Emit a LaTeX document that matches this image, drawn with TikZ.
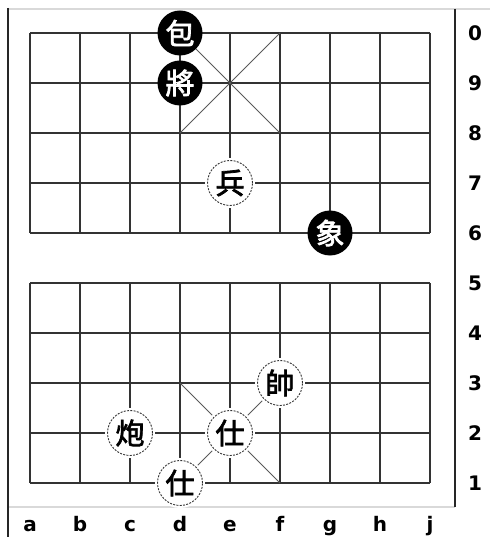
\documentclass[tikz,border=0pt]{standalone}
\usepackage{fontspec}
\newfontfamily\cjk[AutoFakeBold=2.5]{Noto Sans CJK SC}
\newfontfamily\lab{DejaVu Sans}
\begin{document}
\begin{tikzpicture}[x=1pt,y=-1pt,
  gridline/.style={draw=black!80,line width=1.2pt},
  palace/.style={draw=black!65,line width=0.8pt},
  frameline/.style={draw=black!85,line width=1.6pt},
  lightline/.style={draw=black!15,line width=1.2pt},
  blackpc/.style={circle,fill=black,text=white,minimum size=45pt,inner sep=0pt,
    font=\cjk\bfseries\fontsize{29}{29}\selectfont},
  redpc/.style={circle,fill=white,draw=black!80,line width=0.9pt,
    dash pattern=on 2pt off 1.3pt,minimum size=45pt,inner sep=0pt,
    preaction={draw=white,solid,line width=5pt},
    font=\cjk\bfseries\fontsize{29}{29}\selectfont},
  ranklabel/.style={font=\lab\bfseries\fontsize{20}{20}\selectfont,inner sep=0pt},
  filelabel/.style={font=\lab\bfseries\fontsize{20}{20}\selectfont,inner sep=0pt}]
\useasboundingbox (0,0) rectangle (490,537);
% frame
\draw[lightline] (8,9) -- (490,9);
\draw[lightline] (8,507) -- (455,507);
\draw[frameline] (8,8) -- (8,537);
\draw[frameline] (455,9) -- (455,507);
% grid coordinates
\foreach \c in {1,...,9}{
  \foreach \r in {1,...,10}{
    \coordinate (p-\c-\r) at ({30+50*(\c-1)},{33+50*(10-\r)});
  }
}
% horizontal lines
\foreach \r in {1,...,10}{
  \draw[gridline] (p-1-\r) -- (p-9-\r);
}
% vertical lines
\foreach \c in {1,...,9}{
  \draw[gridline] (p-\c-10) -- (p-\c-6);
  \draw[gridline] (p-\c-5) -- (p-\c-1);
}
% palaces
\draw[palace] (p-4-10) -- (p-6-8);
\draw[palace] (p-6-10) -- (p-4-8);
\draw[palace] (p-4-3) -- (p-6-1);
\draw[palace] (p-6-3) -- (p-4-1);
% pieces
\node[blackpc] (bpao) at (p-4-10) {包};
\node[blackpc] (bjiang) at (p-4-9) {將};
\node[blackpc] (bxiang) at (p-7-6) {象};
\node[redpc] (rbing) at (p-5-7) {兵};
\node[redpc] (rshuai) at (p-6-3) {帥};
\node[redpc] (rshi1) at (p-5-2) {仕};
\node[redpc] (rpao) at (p-3-2) {炮};
\node[redpc] (rshi2) at (p-4-1) {仕};
% rank labels
\foreach \r/\t in {10/0,9/9,8/8,7/7,6/6,5/5,4/4,3/3,2/2,1/1}{
  \node[ranklabel] (rank-\r) at (475,{33+50*(10-\r)}) {\t};
}
% file labels
\foreach \c/\t in {1/a,2/b,3/c,4/d,5/e,6/f,7/g,8/h,9/j}{
  \node[filelabel,anchor=base] (file-\c) at ({30+50*(\c-1)},531) {\t};
}
\end{tikzpicture}
\end{document}
